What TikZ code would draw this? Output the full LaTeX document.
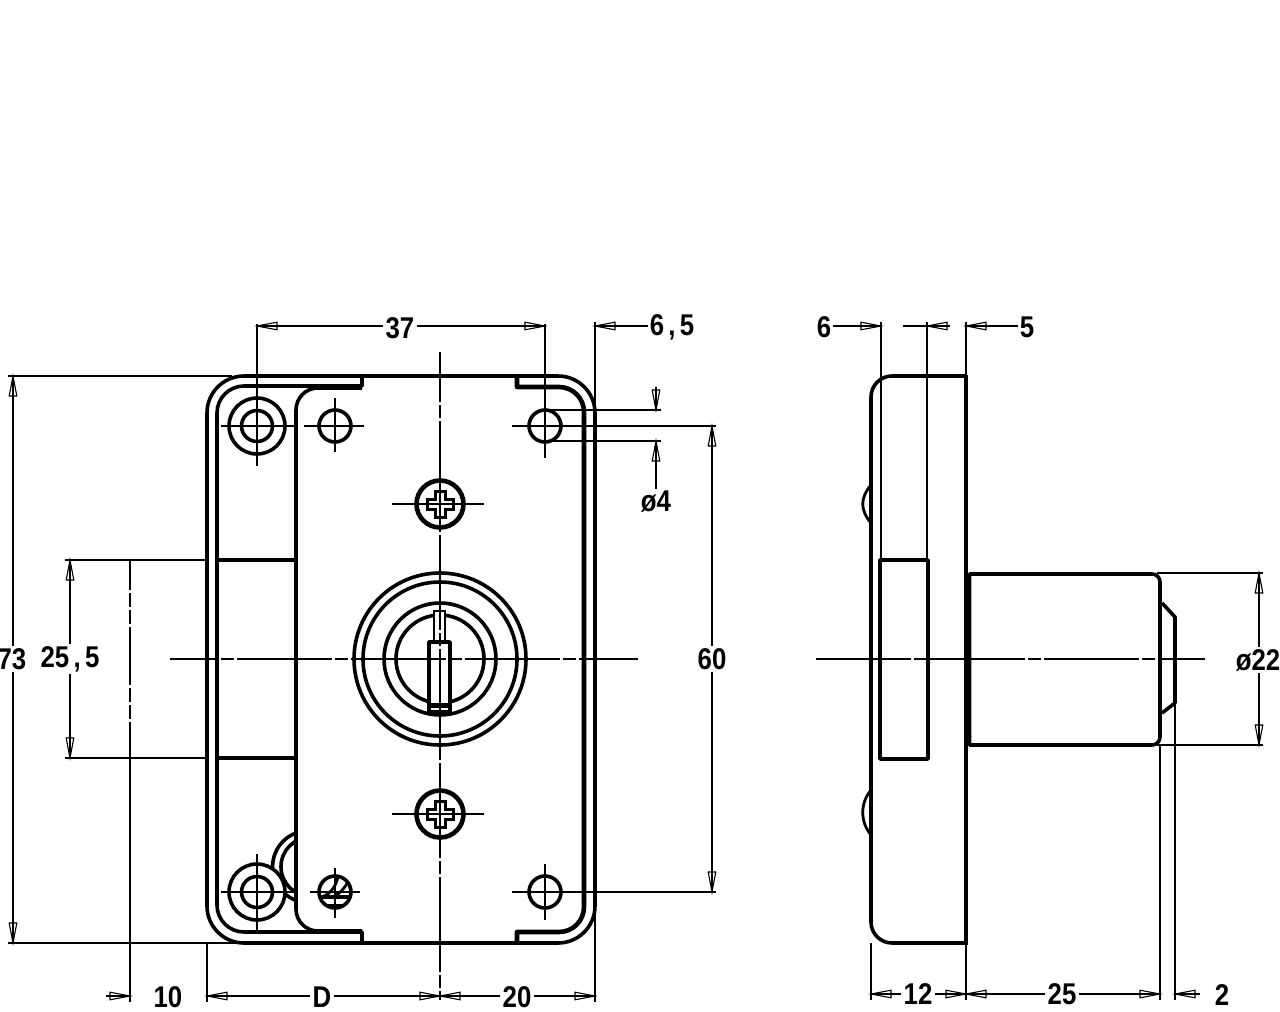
\documentclass[tikz,border=0pt]{standalone}
\usepackage{fontspec}
\setmainfont{Liberation Sans}
\usetikzlibrary{arrows.meta}
\pgfdeclarearrow{
  name=DimTip,
  setup code={\pgfarrowssettipend{20pt}\pgfarrowssetlineend{19pt}\pgfarrowssetvisualbackend{0pt}\pgfarrowssetbackend{0pt}\pgfarrowssetvisualtipend{20pt}},
  drawing code={\pgfsetdash{}{0pt}\pgfsetmiterjoin\pgfsetlinewidth{1.1pt}
    \pgfpathmoveto{\pgfqpoint{20pt}{0pt}}\pgfpathlineto{\pgfqpoint{0pt}{3.8pt}}\pgfpathlineto{\pgfqpoint{0pt}{-3.8pt}}\pgfpathclose\pgfusepathqstroke},
}
\newcommand{\sq}[1]{\scalebox{.86}[1]{#1}}
\tikzset{
  heavy/.style={line width=3.6pt,line join=round},
  heavier/.style={line width=4.6pt,line join=round},
  fine/.style={line width=1.3pt},
  dimline/.style={line width=1.3pt},
  centre/.style={line width=1.3pt,dash pattern=on 95pt off 3pt on 13pt off 3pt},
  phantom/.style={line width=2.4pt,dash pattern=on 58pt off 3pt on 14pt off 3pt on 14pt off 3pt},
  dimtext/.style={inner sep=2pt,font=\fontsize{30}{30}\selectfont\bfseries},
}
\begin{document}
\begin{tikzpicture}[x=1pt,y=-1pt]
\useasboundingbox (0,0) rectangle (1280,1012);
% ---------- front view: plate
\draw[heavy,rounded corners=37pt] (300,376) -- (207,376) -- (207,943) -- (300,943);
\draw[heavy,rounded corners=37pt] (300,376) -- (595,376) -- (595,943) -- (300,943);
\draw[heavy,rounded corners=27pt] (362,376) [sharp corners] -- (362,386) [rounded corners=27pt] -- (217,386) -- (217,932) [sharp corners] -- (362,932) -- (362,943);
\draw[heavy,rounded corners=22pt] (362,388) -- (296,388) -- (296,931) -- (362,931);
\draw[heavier,rounded corners=25pt] (517,376) [sharp corners] -- (517,387) [rounded corners=25pt] -- (584,387) -- (584,932) [sharp corners] -- (517,932) -- (517,943);
\draw[heavy] (217,560) -- (296,560);
\draw[heavy] (217,758) -- (296,758);
% crescent behind the cover
\begin{scope}
\clip (250,820) rectangle (296,910);
\draw[heavy] (308.6,866.7) circle[radius=36];
\draw[heavy] (310.5,866.7) circle[radius=29.5];
\end{scope}
% holes
\draw[heavy,fill=white] (257,426) circle[radius=28];
\draw[heavy] (257,426) circle[radius=15.5];
\draw[heavy,fill=white] (257,892) circle[radius=28];
\draw[heavy] (257,892) circle[radius=15.5];
\draw[heavy] (335,426) circle[radius=16];
\draw[heavy] (545,426) circle[radius=16];
\draw[heavy] (545,892) circle[radius=16];
% slotted screw
\draw[heavy] (335,892) circle[radius=16];
\begin{scope}
\clip (335,892) circle[radius=16];
\fill (319,904) rectangle (351,909);
\draw[heavy] (319,897) -- (351,897);
\draw[line width=2.8pt] (322,897) .. controls (332,893) and (336,885) .. (338,877);
\draw[line width=2.8pt] (333,897) .. controls (341,893) and (345,887) .. (348,882);
\end{scope}
% lock cylinder
\draw[heavy] (440,659) circle[radius=86];
\draw[heavy] (440,659) circle[radius=77];
\draw[heavy] (440,659) circle[radius=56];
\draw[heavy] (440,659) circle[radius=44];
\draw[line width=2.6pt,fill=white] (434,611) rectangle (445,642);
\draw[heavy,fill=white] (429,642) rectangle (450,712);
\fill (429,703) rectangle (450,708);
% cross-head screws
\foreach \cy in {504,814}{
  \draw[heavier] (440,\cy) circle[radius=23.5];
  \draw[line width=3pt,line join=miter] (435,\cy-13) -- (445,\cy-13) -- (445,\cy-5) -- (453,\cy-5) -- (453,\cy+5) -- (445,\cy+5) -- (445,\cy+13) -- (435,\cy+13) -- (435,\cy+5) -- (427,\cy+5) -- (427,\cy-5) -- (435,\cy-5) -- cycle;
  \draw[fine] (392,\cy) -- (484,\cy);
}
% centre lines
\draw[centre,dash phase=47pt] (170,659) -- (638,659);
\draw[centre,dash phase=45pt] (440,352) -- (440,1000);
\draw[fine] (221,426) -- (298,426);
\draw[fine] (304,426) -- (364,426);
\draw[fine] (335,398) -- (335,452);
\draw[fine] (257,324) -- (257,466);
\draw[fine] (545,324) -- (545,458);
\draw[fine] (221,892) -- (296,892);
\draw[fine] (257,854) -- (257,930);
\draw[fine] (310,892) -- (360,892);
\draw[fine] (335,868) -- (335,918);
\draw[fine] (512,892) -- (716,892);
\draw[fine] (545,864) -- (545,920);
\draw[fine] (512,426) -- (716,426);
% extension lines, front view
\draw[fine] (8,376) -- (232,376);
\draw[fine] (8,943) -- (245,943);
\draw[fine] (65,560) -- (206,560);
\draw[fine] (65,758) -- (206,758);
\draw[phantom,dash phase=28pt] (130,560) -- (130,758);
\draw[line width=1.6pt] (130,758) -- (130,1002);
\draw[fine] (207,943) -- (207,1002);
\draw[fine] (595,322) -- (595,1002);
\draw[fine] (545,410) -- (661,410);
\draw[fine] (545,441) -- (661,441);
% dimension texts, front view
\node[dimtext] (d37) at (400,328) {\sq{37}};
\node[dimtext] (d65) at (672,327) {\sq{6\,,\,5}};
\node[dimtext] (d4) at (656,502) {\sq{ø4}};
\node[dimtext] (d60) at (712,659) {\sq{60}};
\node[dimtext] (d73) at (12,659) {\sq{73}};
\node[dimtext] (d255) at (70,659) {\sq{25\,,\,5}};
\node[dimtext] (d10) at (168,997) {\sq{10}};
\node[dimtext] (dD) at (322,997) {\sq{D}};
\node[dimtext] (d20) at (517,997) {\sq{20}};
% dimension ends, front view
\coordinate (a37l) at (257,326); \coordinate (a37r) at (545,326);
\coordinate (a65) at (595,326);
\coordinate (a4t) at (656,410); \coordinate (a4tt) at (656,387);
\coordinate (a4b) at (656,441);
\coordinate (a60t) at (712,426); \coordinate (a60b) at (712,892);
\coordinate (a73t) at (13,376); \coordinate (a73b) at (13,943);
\coordinate (a25t) at (70,560); \coordinate (a25b) at (70,758);
\coordinate (a10) at (130,996); \coordinate (a10t) at (106,996);
\coordinate (aDl) at (207,996); \coordinate (aDr) at (440,996); \coordinate (a20r) at (595,996);
\draw[dimline,{DimTip}-] (a37l) -- (a37l -| d37.west);
\draw[dimline,{DimTip}-] (a37r) -- (a37r -| d37.east);
\draw[dimline,{DimTip}-] (a65) -- (a65 -| d65.west);
\draw[dimline,-{DimTip}] (a4tt) -- (a4t);
\draw[dimline,{DimTip}-] (a4b) -- (a4b |- d4.north);
\draw[dimline,{DimTip}-] (a60t) -- (a60t |- d60.north);
\draw[dimline,{DimTip}-] (a60b) -- (a60b |- d60.south);
\draw[dimline,{DimTip}-] (a73t) -- (a73t |- d73.north);
\draw[dimline,{DimTip}-] (a73b) -- (a73b |- d73.south);
\draw[dimline,{DimTip}-] (a25t) -- (a25t |- d255.north);
\draw[dimline,{DimTip}-] (a25b) -- (a25b |- d255.south);
\draw[dimline,-{DimTip}] (a10t) -- (a10);
\draw[dimline,{DimTip}-] (aDl) -- (aDl -| dD.west);
\draw[dimline,{DimTip}-] (aDr) -- (aDr -| dD.east);
\draw[dimline,{DimTip}-] (aDr) -- (aDr -| d20.west);
\draw[dimline,{DimTip}-] (a20r) -- (a20r -| d20.east);
% ---------- side view
\draw[heavy,rounded corners=21pt] (966,376) -- (871,376) -- (871,943) -- (966,943);
\draw[heavy] (966,374.5) -- (966,944.5);
\draw[line width=2.8pt] (871,485) .. controls (860,498) and (860,510) .. (871,523);
\draw[line width=2.8pt] (871,790) .. controls (860,803) and (860,822) .. (871,835);
\draw[heavy] (880,560) rectangle (928,759);
\draw[heavy,rounded corners=8pt] (969.5,745) [sharp corners] -- (969.5,574) [rounded corners=8pt] -- (1160,574) -- (1160,745) [sharp corners] -- cycle;
\draw[heavy] (1162,603) -- (1175,617) -- (1175,703) -- (1162,713);
\draw[centre] (816,659) -- (1205,659);
\draw[fine] (881,322) -- (881,560);
\draw[fine] (927,322) -- (927,560);
\draw[fine] (966,322) -- (966,376);
\draw[fine] (1157,573) -- (1263,573);
\draw[fine] (1157,745) -- (1263,745);
\draw[fine] (1160,745) -- (1160,1000);
\draw[fine] (1175,703) -- (1175,1000);
\draw[fine] (871,943) -- (871,1000);
\draw[fine] (966,943) -- (966,1000);
% dimension texts, side view
\node[dimtext] (s6) at (824,327) {\sq{6}};
\node[dimtext] (s5) at (1027,327) {\sq{5}};
\node[dimtext] (s12) at (918,994) {\sq{12}};
\node[dimtext] (s25) at (1062,994) {\sq{25}};
\node[dimtext] (s2) at (1222,995) {\sq{2}};
\node[dimtext] (s22) at (1258,660) {\sq{ø22}};
\coordinate (b6) at (881,326); \coordinate (b6m) at (927,326); \coordinate (b6a) at (903,326); \coordinate (b6b) at (950,326);
\coordinate (b5) at (966,326);
\coordinate (b12l) at (871,994); \coordinate (b12r) at (966,994); \coordinate (b25r) at (1160,994);
\coordinate (b2) at (1175,994); \coordinate (b2t) at (1200,994);
\coordinate (b22t) at (1259,573); \coordinate (b22b) at (1259,745);
\draw[dimline,{DimTip}-] (b6) -- (b6 -| s6.east);
\draw[dimline] (b6a) -- (b6m);
\draw[dimline,{DimTip}-] (b6m) -- (b6b);
\draw[dimline,{DimTip}-] (b5) -- (b5 -| s5.west);
\draw[dimline,{DimTip}-] (b12l) -- (b12l -| s12.west);
\draw[dimline,{DimTip}-] (b12r) -- (b12r -| s12.east);
\draw[dimline,{DimTip}-] (b12r) -- (b12r -| s25.west);
\draw[dimline,{DimTip}-] (b25r) -- (b25r -| s25.east);
\draw[dimline,-{DimTip}] (b2t) -- (b2);
\draw[dimline,{DimTip}-] (b22t) -- (b22t |- s22.north);
\draw[dimline,{DimTip}-] (b22b) -- (b22b |- s22.south);
\end{tikzpicture}
\end{document}
